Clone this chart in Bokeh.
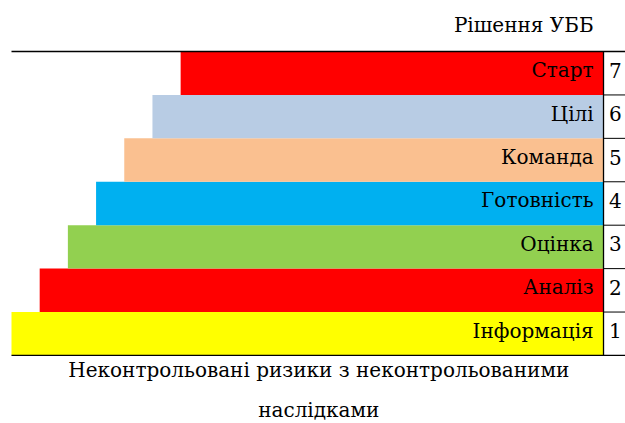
from bokeh.plotting import figure
from bokeh.models import Range1d, ColumnDataSource
from bokeh.core.properties import value
from bokeh.embed import file_html
from bokeh.resources import INLINE

# Steps of the decision ladder, bottom to top
ranks = [1, 2, 3, 4, 5, 6, 7]
steps = ["Інформація", "Аналіз", "Оцінка", "Готовність", "Команда", "Цілі", "Старт"]
lengths = [21, 20, 19, 18, 17, 16, 15]
colors = ["#FFFF00", "#FF0000", "#92D050", "#00B0F0", "#FAC090", "#B8CCE4", "#FF0000"]
rank_labels = ["1", "2", "3", "4", "5", "6", "7"]

top_label = "Рішення УББ"
bottom_lines = ["Неконтрольовані ризики з неконтрольованими", "наслідками"]

FONT = value("DejaVu Serif")
FS = "20px"
ROW_PX = 43.4          # pixels per row unit
LIFT = 3 / ROW_PX      # labels sit slightly above the row centre

p = figure(width=625, height=423, output_backend="svg", toolbar_location=None,
           x_range=Range1d(-21.39, 0.78), y_range=Range1d(-1.067, 8.675),
           min_border=0, outline_line_color=None)
p.axis.visible = False
p.grid.visible = False
p.background_fill_color = "white"
p.border_fill_color = "white"

src = ColumnDataSource(dict(
    y=ranks, left=[-v for v in lengths], right=[0] * len(lengths),
    color=colors, step=steps, num=rank_labels,
    ty=[r + LIFT for r in ranks],
    tx=[-0.35] * len(ranks), nx=[0.42] * len(ranks),
))

p.hbar(y="y", left="left", right="right", height=1.0, fill_color="color",
       line_color=None, source=src)

# Framing lines: top and bottom rules, the column divider and row separators
x_min = -max(lengths)
p.segment(x0=[x_min, x_min], y0=[7.5, 0.5], x1=[0.78, 0.78], y1=[7.5, 0.5],
          line_color="black", line_width=1.3)
p.segment(x0=[0], y0=[0.5], x1=[0], y1=[7.5], line_color="black", line_width=1.3)
seps = [r + 0.5 for r in ranks[:-1]]
p.segment(x0=[0] * len(seps), y0=seps, x1=[0.78] * len(seps), y1=seps,
          line_color="black", line_width=1)

p.text(x="tx", y="ty", text="step", source=src, text_font=FONT,
       text_font_size=FS, text_align="right", text_baseline="middle",
       text_color="black")
p.text(x="nx", y="ty", text="num", source=src, text_font=FONT,
       text_font_size=FS, text_align="center", text_baseline="middle",
       text_color="black")

p.text(x=[-0.35], y=[7.5 + 27 / ROW_PX], text=[top_label], text_font=FONT,
       text_font_size=FS, text_align="right", text_baseline="middle",
       text_color="black")
p.text(x=[-10.1, -10.1], y=[0.5 - 15 / ROW_PX, 0.5 - 55 / ROW_PX], text=bottom_lines,
       text_font=FONT, text_font_size=FS, text_align="center",
       text_baseline="middle", text_color="black")

open("out.html", "w").write(file_html(p, INLINE))
